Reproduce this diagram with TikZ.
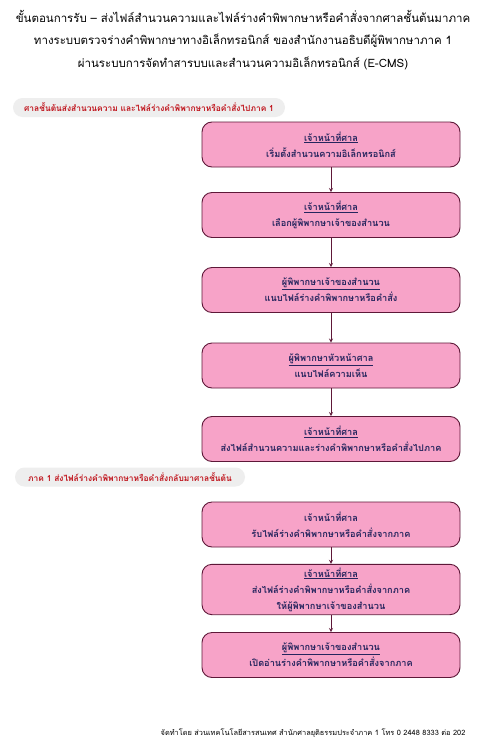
\documentclass[tikz,border=0pt]{standalone}
\usepackage{fontspec}
\setmainfont[Script=Thai]{Loma}
\usepackage{tikz}
\usepackage{xcolor}
\usetikzlibrary{arrows,positioning}

\definecolor{boxpink}{HTML}{F7A3C8}
\definecolor{boxedge}{HTML}{5E1838}
\definecolor{boxtext}{HTML}{25255E}
\definecolor{pillgray}{HTML}{EEEEEE}
\definecolor{pillred}{HTML}{C0141C}

\begin{document}
\begin{tikzpicture}[x=1pt,y=-1pt,
  stepbox/.style={draw=boxedge,fill=boxpink,line width=0.9pt,rounded corners=10pt,
    minimum width=258pt,minimum height=45pt,align=center,text=boxtext,
    font=\fontsize{9.2}{16}\selectfont\bfseries},
  pill/.style={fill=pillgray,rounded corners=9.5pt,minimum height=19pt,text=pillred,
    font=\fontsize{8.4}{9}\selectfont\bfseries},
  flow/.style={draw=boxedge,line width=0.8pt,-stealth}]
\useasboundingbox[fill=white] (0,0) rectangle (486,744);
% title
\node[align=center,font=\fontsize{11.5}{22.5}\selectfont] (title) at (243,40)
  {ขั้นตอนการรับ -- ส่งไฟล์สำนวนความและไฟล์ร่างคำพิพากษาหรือคำสั่งจากศาลชั้นต้นมาภาค\\
   ทางระบบตรวจร่างคำพิพากษาทางอิเล็กทรอนิกส์ ของสำนักงานอธิบดีผู้พิพากษาภาค 1\\
   ผ่านระบบการจัดทำสารบบและสำนวนความอิเล็กทรอนิกส์ (E-CMS)};
% part 1
\node[pill,minimum width=272pt] (p1) at (149,107.5)
  {ศาลชั้นต้นส่งสำนวนความ และไฟล์ร่างคำพิพากษาหรือคำสั่งไปภาค 1};
\node[stepbox] (b1) at (331,144.5) {\underline{เจ้าหน้าที่ศาล}\\เริ่มตั้งสำนวนความอิเล็กทรอนิกส์};
\node[stepbox] (b2) at (331,215) {\underline{เจ้าหน้าที่ศาล}\\เลือกผู้พิพากษาเจ้าของสำนวน};
\node[stepbox] (b3) at (331,290) {\underline{ผู้พิพากษาเจ้าของสำนวน}\\แนบไฟล์ร่างคำพิพากษาหรือคำสั่ง};
\node[stepbox] (b4) at (331,365.5) {\underline{ผู้พิพากษาหัวหน้าศาล}\\แนบไฟล์ความเห็น};
\node[stepbox] (b5) at (331,439) {\underline{เจ้าหน้าที่ศาล}\\ส่งไฟล์สำนวนความและร่างคำพิพากษาหรือคำสั่งไปภาค};
\draw[flow] (b1)--(b2);
\draw[flow] (b2)--(b3);
\draw[flow] (b3)--(b4);
\draw[flow] (b4)--(b5);
% part 2
\node[pill,minimum width=230pt] (p2) at (130,477)
  {ภาค 1 ส่งไฟล์ร่างคำพิพากษาหรือคำสั่งกลับมาศาลชั้นต้น};
\node[stepbox] (b6) at (331,524.5) {เจ้าหน้าที่ศาล\\รับไฟล์ร่างคำพิพากษาหรือคำสั่งจากภาค};
\node[stepbox] (b7) at (331,589.5) {\underline{เจ้าหน้าที่ศาล}\\ส่งไฟล์ร่างคำพิพากษาหรือคำสั่งจากภาค\\ให้ผู้พิพากษาเจ้าของสำนวน};
\node[stepbox] (b8) at (331,655) {\underline{ผู้พิพากษาเจ้าของสำนวน}\\เปิดอ่านร่างคำพิพากษาหรือคำสั่งจากภาค};
\draw[flow] (b6)--(b7);
\draw[flow] (b7)--(b8);
% footer
\node[anchor=east,font=\fontsize{7.4}{8}\selectfont] (foot) at (469,733)
  {จัดทำโดย ส่วนเทคโนโลยีสารสนเทศ สำนักศาลยุติธรรมประจำภาค 1 โทร 0 2448 8333 ต่อ 202};
\end{tikzpicture}
\end{document}
